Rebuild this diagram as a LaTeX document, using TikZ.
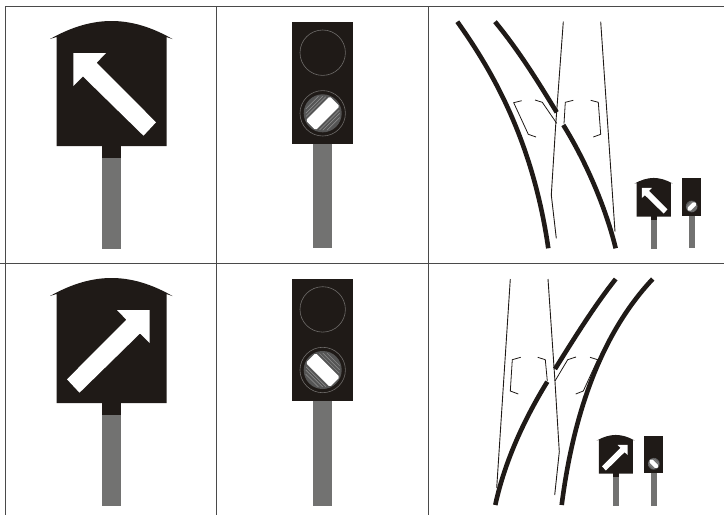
\documentclass[tikz,border=0pt]{standalone}
\definecolor{sigblack}{HTML}{1F1A17}
\definecolor{polegray}{HTML}{727271}
\definecolor{gridgray}{HTML}{4A4A4A}
\definecolor{discgray}{HTML}{555555}
\definecolor{hatchgray}{HTML}{929292}
\definecolor{ringgray}{HTML}{6E6B69}
\tikzset{
  gridline/.style={draw=gridgray,line width=1.5pt},
  body/.style={fill=sigblack,draw=none},
  pole/.style={fill=polegray,draw=none},
  ringline/.style={draw=ringgray,line width=#1},
  thickrail/.style={draw=sigblack,line width=4.6pt},
  thinrail/.style={draw=sigblack,line width=0.9pt},
  bracket/.style={draw=sigblack,line width=0.8pt},
}
% sign with arrow: origin at neck centre / body bottom
\newcommand{\arrowsign}[5]{% x, y, scale, mirror flag (1 or -1), pole length
  \begin{scope}[shift={(#1,#2)},xscale=#3,yscale=#3]
    \fill[pole] (-9.7,12) rectangle (9.7,#5);
    \fill[body] (-9.7,-1) rectangle (9.7,12);
    \fill[body] (-55,0) -- (-55,-109) -- (-61.5,-107)
       .. controls (-40,-119) and (-20,-125) .. (0,-125)
       .. controls (20,-125) and (40,-119) .. (61,-107)
       -- (55,-109) -- (55,0) -- cycle;
    \fill[white,xscale=#4] (-38.2,-93) -- (-5.5,-93) -- (-14.8,-83.3) -- (44.5,-23.7)
       -- (32,-10.3) -- (-28.5,-69.5) -- (-38.2,-60) -- cycle;
  \end{scope}}
% signal head with lens: origin at pole centre / body bottom
\newcommand{\lenssignal}[6]{% x, y, scale, bar angle, height, ring line
  \begin{scope}[shift={(#1,#2)},xscale=#3,yscale=#3]
    \fill[pole] (-9.7,0) rectangle (9.7,#5);
    \fill[body] (-30.7,0) rectangle (30.7,-121.7);
    \ifdim#3pt>0.5pt
      \draw[ringline=#6] (0,-91.3) circle (22.7);
    \fi
    \begin{scope}[shift={(0,-30.7)},rotate=#4]
      \ifdim#3pt>0.5pt
        \draw[ringline=#6] (0,0) circle (22.7);
      \fi
      \fill[discgray] (0,0) circle (19);
      \draw[hatchgray,line width=0.8*#6]
        (-14,-9.5) -- (14,-9.5) (-12,-12) -- (12,-12) (-9,-15) -- (9,-15)
        (-14,9.5) -- (14,9.5) (-12,12) -- (12,12) (-9,15) -- (9,15);
      \fill[white,rounded corners=1.5pt] (-17,-7) rectangle (17,7);
    \end{scope}
  \end{scope}}
\begin{document}
\begin{tikzpicture}[x=1pt,y=-1pt]
\useasboundingbox (0,0) rectangle (724,515);
% grid
\draw[gridline] (5.7,6.3) -- (724,6.3);
\draw[gridline] (0,263.7) -- (724,263.7);
\draw[gridline] (5.7,6.3) -- (5.7,515);
\draw[gridline] (216.7,6.3) -- (216.7,515);
\draw[gridline] (428.3,6.3) -- (428.3,515);
% large signs
\arrowsign{111.5}{146}{1}{1}{102.7}
\arrowsign{111.5}{403}{1}{-1}{103}
% large signals
\lenssignal{322.7}{144}{1}{45}{104}{0.6pt}
\lenssignal{322.7}{400.7}{1}{-45}{105.3}{0.6pt}
% upper track
\draw[thickrail] (457.3,21.7) .. controls (488,65) and (532,135) .. (548.3,248.3);
\draw[thickrail] (495,21.7) .. controls (520,52) and (540,85) .. (556.7,112.3);
\draw[thickrail] (563.3,125) .. controls (585,160) and (605,205) .. (615.7,248.3);
\draw[thinrail] (563.3,21.7) -- (555.7,125) -- (551.3,195) -- (556.3,238.3);
\draw[thinrail] (600.7,21.7) -- (615,231.7);
\draw[bracket] (521.7,100.7) -- (513.7,102.7) -- (528.3,134.3) -- (536,137);
\draw[bracket] (535,100) -- (542.3,102.3) -- (556.7,123.3);
\draw[bracket] (573.3,100.3) -- (565.3,102.3) -- (564,123.7);
\draw[bracket] (590.7,100.3) -- (598.3,102.3) -- (600.7,134.3) -- (593.3,137);
\arrowsign{653.7}{216.7}{0.31}{1}{102.7}
\lenssignal{691.7}{216}{0.31}{45}{104}{0.2pt}
% lower track
\draw[thickrail] (652.7,279) .. controls (616,318) and (577,385) .. (561.7,505);
\draw[thickrail] (615.7,279) .. controls (595,305) and (575,337) .. (555,369);
\draw[thickrail] (547.3,381.7) .. controls (525,418) and (505,460) .. (495.3,505);
\draw[thinrail] (548,279) -- (555,381.7) -- (559.3,451.7) -- (554.7,495);
\draw[thinrail] (510.3,279) -- (496.7,488);
\draw[bracket] (520.7,357.3) -- (512.3,359.7) -- (510.3,391) -- (518.3,394);
\draw[bracket] (537.7,357.3) -- (545.3,359.7) -- (547.3,381);
\draw[bracket] (576,357) -- (567.7,359.7) -- (555,381);
\draw[bracket] (590,357.3) -- (597.7,359.7) -- (583.3,391) -- (575.7,394);
\arrowsign{615.8}{473.7}{0.31}{-1}{102.7}
\lenssignal{653.8}{473.3}{0.31}{-45}{104}{0.2pt}
\end{tikzpicture}
\end{document}
